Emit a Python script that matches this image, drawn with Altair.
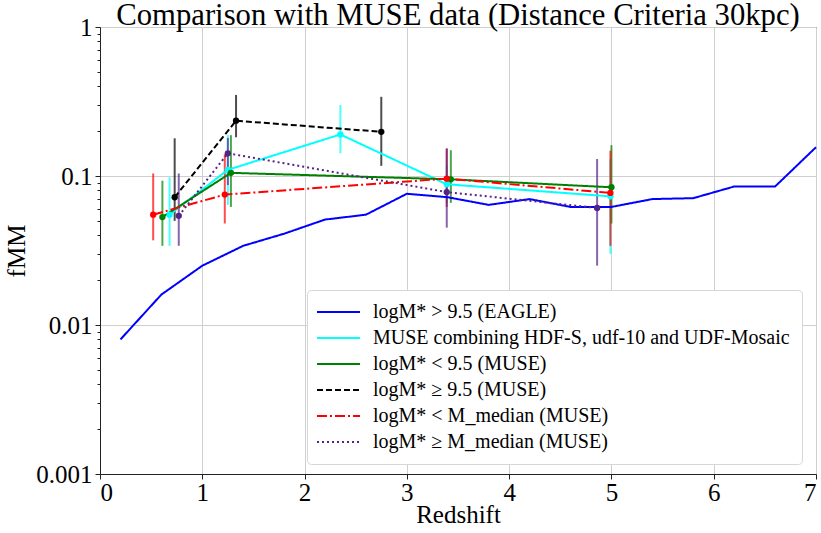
import altair as alt
import pandas as pd

# Series names (legend order) and styles
series_names = [
    "logM* > 9.5 (EAGLE)",
    "MUSE combining HDF-S, udf-10 and UDF-Mosaic",
    "logM* < 9.5 (MUSE)",
    "logM* ≥ 9.5 (MUSE)",
    "logM* < M_median (MUSE)",
    "logM* ≥ M_median (MUSE)",
]
series_colors = ["#0000ff", "#00ffff", "#008000", "#000000", "#ff0000", "#552288"]
series_dashes = [[1, 0], [1, 0], [1, 0], [6, 3], [10, 3, 2, 3], [2, 3]]

# EAGLE simulation, log M* > 9.5
eagle_z = [0.2, 0.6, 1.0, 1.4, 1.8, 2.2, 2.6, 3.0, 3.4, 3.8, 4.2, 4.6, 5.0, 5.4, 5.8, 6.2, 6.6, 7.0]
eagle_f = [0.008, 0.016, 0.025, 0.034, 0.041, 0.051, 0.055, 0.076, 0.072, 0.064,
           0.070, 0.062, 0.062, 0.070, 0.071, 0.085, 0.085, 0.156]

# MUSE combined fields
all_z = [0.68, 1.25, 2.35, 3.39, 4.99]
all_f = [0.055, 0.110, 0.190, 0.088, 0.073]
all_lo = [0.034, 0.064, 0.142, 0.066, 0.030]
all_hi = [0.098, 0.188, 0.300, 0.118, 0.130]

# MUSE, log M* < 9.5
low_z = [0.61, 1.28, 3.43, 5.00]
low_f = [0.053, 0.105, 0.095, 0.084]
low_lo = [0.034, 0.062, 0.066, 0.048]
low_hi = [0.093, 0.188, 0.149, 0.161]

# MUSE, log M* >= 9.5
high_z = [0.73, 1.33, 2.75]
high_f = [0.072, 0.235, 0.198]
high_lo = [0.050, 0.182, 0.117]
high_hi = [0.179, 0.350, 0.340]

# MUSE, log M* < M_median
below_z = [0.52, 1.22, 3.39, 4.99]
below_f = [0.055, 0.075, 0.096, 0.077]
below_lo = [0.037, 0.048, 0.062, 0.034]
below_hi = [0.104, 0.140, 0.153, 0.148]

# MUSE, log M* >= M_median
above_z = [0.77, 1.25, 3.39, 4.86]
above_f = [0.054, 0.142, 0.078, 0.061]
above_lo = [0.034, 0.087, 0.045, 0.025]
above_hi = [0.104, 0.180, 0.153, 0.130]

muse_sets = [
    (series_names[1], all_z, all_f, all_lo, all_hi),
    (series_names[2], low_z, low_f, low_lo, low_hi),
    (series_names[3], high_z, high_f, high_lo, high_hi),
    (series_names[4], below_z, below_f, below_lo, below_hi),
    (series_names[5], above_z, above_f, above_lo, above_hi),
]

muse_rows = []
for name, zs, fs, los, his in muse_sets:
    for z, f, lo, hi in zip(zs, fs, los, his):
        muse_rows.append({"series": name, "z": z, "f": f, "lo": lo, "hi": hi})
df_muse = pd.DataFrame(muse_rows)

df_lines = pd.concat([
    pd.DataFrame({"series": series_names[0], "z": eagle_z, "f": eagle_f}),
    df_muse[["series", "z", "f"]],
], ignore_index=True)

serif = "Liberation Serif"
color_scale = alt.Scale(domain=series_names, range=series_colors)
dash_scale = alt.Scale(domain=series_names, range=series_dashes)

major = "indexof([0.001, 0.01, 0.1, 1], datum.value) >= 0"
y_ticks = [m * 10.0 ** e for e in (-3, -2, -1) for m in range(1, 10)] + [1.0]
y_ticks = [float(f"{v:.3g}") for v in y_ticks]

x_scale = alt.Scale(domain=[0, 7], nice=False, zero=False)
y_scale = alt.Scale(type="log", domain=[0.001, 1], nice=False)

x_axis = alt.Axis(values=list(range(8)), title="Redshift", format="d",
                  tickSize=5, labelPadding=1, titlePadding=-3)
y_axis = alt.Axis(
    values=y_ticks,
    title="fMM",
    labelExpr="datum.value == 1 ? '1' : datum.value == 0.1 ? '0.1' : "
              "datum.value == 0.01 ? '0.01' : datum.value == 0.001 ? '0.001' : ''",
    tickSize={"condition": {"test": major, "value": 5}, "value": 3},
    gridOpacity={"condition": {"test": major, "value": 1}, "value": 0},
    labelPadding=3,
    titlePadding=6,
    labelOverlap=False,
)

legend = alt.Legend(
    title=None,
    orient="none",
    legendX=207,
    legendY=263,
    symbolType="M-12,0H31",
    symbolSize=4,
    symbolStrokeWidth=2,
    symbolOpacity=1,
    labelFont=serif,
    labelFontSize=20,
    labelColor="black",
    labelOffset=34,
    labelLimit=0,
    rowPadding=6,
    padding=12,
    fillColor="white",
    strokeColor="#d6d6d6",
    cornerRadius=4,
)

bars = alt.Chart(df_muse).mark_rule(strokeWidth=2, opacity=0.7).encode(
    x=alt.X("z:Q", scale=x_scale, axis=x_axis),
    y=alt.Y("lo:Q", scale=y_scale, axis=y_axis),
    y2="hi:Q",
    color=alt.Color("series:N", scale=color_scale, legend=legend),
)

lines = alt.Chart(df_lines).mark_line(strokeWidth=2).encode(
    x=alt.X("z:Q", scale=x_scale, axis=x_axis),
    y=alt.Y("f:Q", scale=y_scale, axis=y_axis),
    color=alt.Color("series:N", scale=color_scale, legend=legend),
    strokeDash=alt.StrokeDash("series:N", scale=dash_scale, legend=legend),
)

points = alt.Chart(df_muse).mark_circle(size=40, opacity=1).encode(
    x=alt.X("z:Q", scale=x_scale, axis=x_axis),
    y=alt.Y("f:Q", scale=y_scale, axis=y_axis),
    color=alt.Color("series:N", scale=color_scale, legend=legend),
)

chart = alt.layer(bars, lines, points).properties(
    width=716,
    height=447,
    title=alt.TitleParams(
        "Comparison with MUSE data (Distance Criteria 30kpc)",
        font=serif, fontSize=30.7, fontWeight="normal", color="black",
        anchor="middle", frame="group", baseline="alphabetic", offset=3, dy=44,
    ),
    autosize=alt.AutoSizeParams(type="none"),
    padding={"left": 100, "top": 27, "right": 5, "bottom": 59},
    background="white",
).configure_view(
    stroke="#222222", strokeWidth=1
).configure_axis(
    labelFont=serif, labelFontSize=25, labelColor="black",
    titleFont=serif, titleFontSize=25, titleColor="black", titleFontWeight="normal",
    domainColor="#222222", tickColor="#222222", gridColor="#cfcfcf", gridWidth=1,
)

chart.save("out.html", embed_options={"renderer": "svg", "actions": False})
